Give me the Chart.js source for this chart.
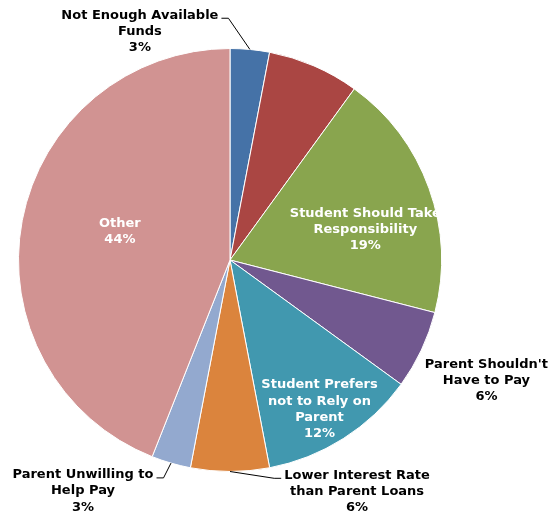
<!DOCTYPE html>
<html>
<head>
<meta charset="utf-8">
<script src="https://cdn.jsdelivr.net/npm/chart.js@4.4.1/dist/chart.umd.min.js"></script>
<style>
  body { margin: 0; background: #fff; }
  #wrap { width: 551px; height: 512px; }
</style>
</head>
<body>
<div id="wrap"><canvas id="pieChartCanvas" width="551" height="512"></canvas></div>
<script>
// slices, clockwise from 12 o'clock
const categories = [
    'Not Enough Available Funds',
    '(unlabelled)',
    'Student Should Take Responsibility',
    "Parent Shouldn't Have to Pay",
    'Student Prefers not to Rely on Parent',
    'Lower Interest Rate than Parent Loans',
    'Parent Unwilling to Help Pay',
    'Other'
];
const shares = [3, 7, 19, 6, 12, 6, 3, 44];   // percent
const sliceColors = ['#4572A7', '#AA4643', '#89A54E', '#71588F', '#4198AF', '#DB843D', '#93A9CF', '#D19392'];

// how the labels are broken into lines (null = no label)
const labelLines = [
    ['Not Enough Available', 'Funds'],
    null,
    ['Student Should Take', 'Responsibility'],
    ["Parent Shouldn't", 'Have to Pay'],
    ['Student Prefers', 'not to Rely on', 'Parent'],
    ['Lower Interest Rate', 'than Parent Loans'],
    ['Parent Unwilling to', 'Help Pay'],
    ['Other']
];

// label placement: r = fraction of radius along the slice middle, dx/dy nudge, leader side
const labelPlace = [
    { r: 1.0, dx: -110, dy: -18, color: '#000', leader: 'right' },
    null,
    { r: 0.66, dx: 4, dy: 17, color: '#fff' },
    { r: 1.34, dx: 0, dy: 0, color: '#000' },
    { r: 0.825, dx: -4, dy: 2, color: '#fff' },
    { r: 1.0, dx: 127, dy: 20, color: '#000', leader: 'left' },
    { r: 1.0, dx: -88, dy: 28, color: '#000', leader: 'right' },
    { r: 0.53, dx: 0, dy: -7, color: '#fff' }
];

const total = shares.reduce((a, b) => a + b, 0);

const sliceLabels = {
    id: 'sliceLabels',
    afterDraw(chart) {
        const ctx = chart.ctx;
        const arcs = chart.getDatasetMeta(0).data;
        const lineH = 16.2;
        ctx.save();
        ctx.font = 'bold 13px "DejaVu Sans", Verdana, sans-serif';
        ctx.textAlign = 'center';
        ctx.textBaseline = 'middle';
        arcs.forEach((arc, i) => {
            const place = labelPlace[i];
            if (!place) return;
            const { x, y, startAngle, endAngle, outerRadius } = arc.getProps(['x', 'y', 'startAngle', 'endAngle', 'outerRadius'], true);
            const mid = (startAngle + endAngle) / 2;
            const cx = x + Math.cos(mid) * outerRadius * place.r + place.dx;
            const cy = y + Math.sin(mid) * outerRadius * place.r + place.dy;
            const lines = labelLines[i].concat([Math.round(shares[i] / total * 100) + '%']);
            const top = cy - (lines.length - 1) * lineH / 2;
            ctx.fillStyle = place.color;
            lines.forEach((t, k) => ctx.fillText(t, cx, top + k * lineH));

            if (place.leader) {
                const w = ctx.measureText(lines[0]).width;
                const ex = x + Math.cos(mid) * outerRadius;
                const ey = y + Math.sin(mid) * outerRadius;
                const side = place.leader === 'right' ? 1 : -1;
                const sx = cx + side * (w / 2 + 3);
                const sy = top + 3;
                ctx.strokeStyle = '#000';
                ctx.lineWidth = 1;
                ctx.beginPath();
                ctx.moveTo(sx, sy);
                ctx.lineTo(sx + side * 7, sy);
                ctx.lineTo(ex, ey);
                ctx.stroke();
            }
        });
        ctx.restore();
    }
};

new Chart(document.getElementById('pieChartCanvas').getContext('2d'), {
    type: 'pie',
    data: {
        labels: categories,
        datasets: [{
            data: shares,
            backgroundColor: sliceColors,
            borderColor: '#fff',
            borderWidth: 1,
            hoverOffset: 0
        }]
    },
    options: {
        responsive: false,
        animation: false,
        layout: {
            padding: { left: 18, right: 109, top: 48, bottom: 40 }
        },
        plugins: {
            legend: { display: false },
            tooltip: { enabled: false }
        }
    },
    plugins: [sliceLabels]
});
</script>
</body>
</html>
